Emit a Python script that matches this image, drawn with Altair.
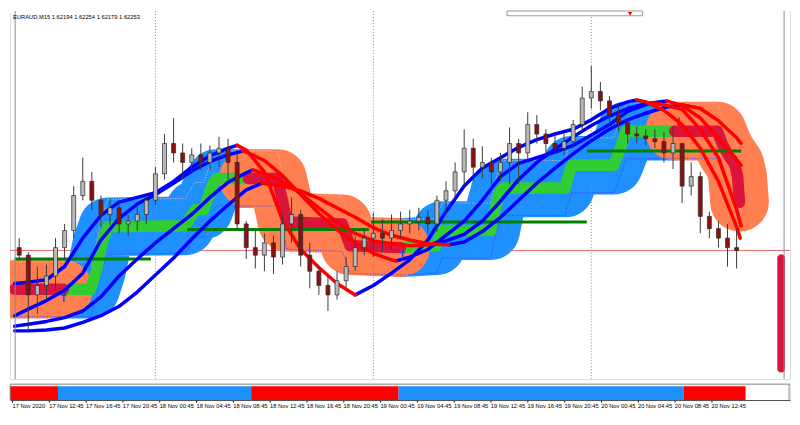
import altair as alt
import pandas as pd

# ---------------- data (x = hours since 17 Nov 2020 00:00, y = EURAUD price) ----------------
HEADER_TEXT = "EURAUD,M15  1.62194 1.62254 1.62179 1.62253"

CANDLE_HOUR = list(range(9, 89))
CANDLE_OPEN = [1.62259, 1.62243, 1.62159, 1.62179, 1.62199, 1.62259, 1.62295, 1.62369, 1.62399, 1.62359,
               1.62329, 1.62343, 1.62309, 1.62315, 1.62329, 1.62359, 1.62415, 1.62479, 1.62459, 1.62439,
               1.62455, 1.62439, 1.62459, 1.62469, 1.62439, 1.62309, 1.62259, 1.62243, 1.62269, 1.62239,
               1.62309, 1.62329, 1.62243, 1.62209, 1.62179, 1.62159, 1.62189, 1.62219, 1.62259, 1.62279,
               1.62289, 1.62279, 1.62295, 1.62309, 1.62315, 1.62323, 1.62309, 1.62359, 1.62379, 1.62419,
               1.62469, 1.62429, 1.62439, 1.62419, 1.62439, 1.62479, 1.62459, 1.62519, 1.62499, 1.62479,
               1.62469, 1.62483, 1.62519, 1.62575, 1.62589, 1.62569, 1.62539, 1.62523, 1.62499, 1.62495,
               1.62489, 1.62483, 1.62459, 1.62479, 1.62389, 1.62409, 1.62325, 1.62299, 1.62279, 1.62259]
CANDLE_HIGH = [1.62279, 1.62249, 1.62219, 1.62223, 1.62279, 1.62309, 1.62389, 1.62449, 1.62419, 1.62369,
               1.62363, 1.62359, 1.62329, 1.62349, 1.62369, 1.62429, 1.62499, 1.62533, 1.62479, 1.62469,
               1.62479, 1.62475, 1.62493, 1.62489, 1.62459, 1.62315, 1.62295, 1.62289, 1.62285, 1.62329,
               1.62365, 1.62339, 1.62269, 1.62219, 1.62199, 1.62209, 1.62239, 1.62283, 1.62299, 1.62333,
               1.62319, 1.62329, 1.62335, 1.62339, 1.62343, 1.62339, 1.62369, 1.62399, 1.62439, 1.62509,
               1.62489, 1.62473, 1.62449, 1.62459, 1.62513, 1.62489, 1.62545, 1.62539, 1.62509, 1.62503,
               1.62499, 1.62529, 1.62599, 1.62643, 1.62609, 1.62579, 1.62559, 1.62529, 1.62515, 1.62509,
               1.62509, 1.62503, 1.62515, 1.62479, 1.62439, 1.62419, 1.62335, 1.62315, 1.62309, 1.62299]
CANDLE_LOW = [1.62235, 1.62085, 1.62119, 1.62149, 1.62169, 1.62235, 1.62279, 1.62359, 1.62339, 1.62303,
              1.62307, 1.62289, 1.62283, 1.62295, 1.62309, 1.62349, 1.62403, 1.62439, 1.62403, 1.62415,
              1.62423, 1.62423, 1.62429, 1.62403, 1.62299, 1.62235, 1.62215, 1.62209, 1.62203, 1.62223,
              1.62269, 1.62219, 1.62173, 1.62159, 1.62125, 1.62149, 1.62175, 1.62209, 1.62243, 1.62239,
              1.62249, 1.62255, 1.62279, 1.62289, 1.62295, 1.62289, 1.62293, 1.62329, 1.62363, 1.62389,
              1.62399, 1.62405, 1.62393, 1.62399, 1.62393, 1.62393, 1.62443, 1.62479, 1.62453, 1.62459,
              1.62455, 1.62469, 1.62505, 1.62553, 1.62549, 1.62519, 1.62505, 1.62479, 1.62479, 1.62475,
              1.62469, 1.62439, 1.62425, 1.62353, 1.62369, 1.62289, 1.62279, 1.62259, 1.62219, 1.62215]
CANDLE_CLOSE = [1.62243, 1.62159, 1.62179, 1.62199, 1.62259, 1.62295, 1.62369, 1.62399, 1.62359, 1.62329,
                1.62343, 1.62309, 1.62315, 1.62329, 1.62359, 1.62415, 1.62479, 1.62459, 1.62439, 1.62455,
                1.62439, 1.62459, 1.62469, 1.62439, 1.62309, 1.62259, 1.62243, 1.62269, 1.62239, 1.62309,
                1.62329, 1.62243, 1.62209, 1.62179, 1.62159, 1.62189, 1.62219, 1.62259, 1.62279, 1.62289,
                1.62279, 1.62295, 1.62309, 1.62315, 1.62323, 1.62309, 1.62359, 1.62379, 1.62419, 1.62469,
                1.62429, 1.62439, 1.62419, 1.62439, 1.62479, 1.62459, 1.62519, 1.62499, 1.62479, 1.62469,
                1.62483, 1.62519, 1.62575, 1.62589, 1.62569, 1.62539, 1.62523, 1.62499, 1.62495, 1.62489,
                1.62483, 1.62459, 1.62479, 1.62389, 1.62409, 1.62325, 1.62299, 1.62279, 1.62259, 1.62253]

# step channel mid-line (green = up, crimson = down), also drawn thick as the channel band
MID_SEG = [0, 0,
           1, 1, 1, 1, 1, 1, 1, 1, 1, 1, 1, 1, 1,
           2, 2, 2, 2, 2, 2, 2, 2,
           3, 3, 3, 3, 3, 3, 3, 3, 3, 3, 3, 3, 3, 3, 3,
           4, 4, 4, 4, 4, 4, 4]
MID_HOUR = [8.5, 13.87,
            13.87, 16.85, 17.49, 18.13, 18.77, 27.31, 27.84, 28.37, 29.33, 29.76, 30.29, 30.72, 34.24,
            34.24, 37.44, 37.97, 38.51, 44.59, 45.01, 45.44, 50.99,
            50.99, 54.93, 55.25, 55.57, 60.91, 61.33, 61.97, 62.40, 69.12, 69.44, 69.87, 74.45, 75.20, 75.84, 81.17,
            81.17, 85.87, 86.40, 86.93, 87.79, 88.11, 88.32]
MID_PRICE = [1.62171, 1.62171,
             1.62171, 1.62171, 1.62209, 1.62269, 1.62303, 1.62305, 1.62323, 1.62339, 1.62339, 1.62363, 1.62393, 1.62405, 1.62405,
             1.62405, 1.62405, 1.62359, 1.62313, 1.62309, 1.62285, 1.62263, 1.62259,
             1.62259, 1.62263, 1.62279, 1.62295, 1.62295, 1.62335, 1.62379, 1.62385, 1.62385, 1.62409, 1.62433, 1.62433, 1.62469, 1.62505, 1.62505,
             1.62505, 1.62505, 1.62479, 1.62459, 1.62435, 1.62409, 1.62355]
MID_SEG_TREND = ["down", "up", "down", "up", "down"]
CHANNEL_HALF_WIDTH = 0.00058   # distance of the dotted channel bounds from the mid-line

# four moving-average curves, coloured by slope; turn hours switch colour
C1_HOUR = [8.5, 10, 12, 14, 16, 18, 20, 22, 24, 26, 28, 30, 32, 33, 34, 36, 38, 40, 42, 44, 46, 48, 50, 52,
           54, 56, 58, 60, 62, 64, 66, 68, 70, 72, 74, 76, 77, 78, 80, 82, 84, 86, 88, 88.4]
C1_PRICE = [1.62183, 1.62186, 1.62191, 1.62219, 1.62279, 1.62327, 1.62355, 1.62365, 1.62375, 1.62399, 1.62429,
            1.62453, 1.62469, 1.62475, 1.62465, 1.62419, 1.62317, 1.62255, 1.62217, 1.62183, 1.62159, 1.62179,
            1.62205, 1.62233, 1.62275, 1.62335, 1.62389, 1.62427, 1.62449, 1.62471, 1.62487, 1.62499, 1.62509,
            1.62529, 1.62553, 1.62567, 1.62571, 1.62567, 1.62549, 1.62519, 1.62469, 1.62399, 1.62303, 1.62279]
C1_TURNS = [33, 46, 77]
C2_HOUR = [8.5, 10, 12, 14, 16, 18, 20, 22, 24, 26, 28, 30, 32, 33.6, 34, 36, 38, 40, 42, 44, 46, 48, 50, 50.5,
           52, 54, 56, 58, 60, 62, 64, 66, 68, 70, 72, 74, 76, 78, 78.7, 80, 82, 84, 86, 88, 88.5]
C2_PRICE = [1.62115, 1.62129, 1.62147, 1.62169, 1.62205, 1.62275, 1.62321, 1.62351, 1.62371, 1.62395, 1.62421,
            1.62441, 1.62455, 1.62463, 1.62461, 1.62443, 1.62411, 1.62371, 1.62331, 1.62297, 1.62269, 1.62247,
            1.62233, 1.62231, 1.62239, 1.62255, 1.62285, 1.62315, 1.62359, 1.62409, 1.62437, 1.62449, 1.62461,
            1.62475, 1.62497, 1.62519, 1.62547, 1.62561, 1.62565, 1.62561, 1.62551, 1.62509, 1.62449, 1.62339,
            1.62305]
C2_TURNS = [33.6, 50.5, 78.7]
C3_HOUR = [8.5, 10, 12, 14, 16, 18, 20, 22, 24, 26, 28, 30, 32, 34, 34.7, 36, 38, 40, 42, 44, 46, 48, 50, 52,
           54, 54.5, 56, 58, 60, 62, 64, 66, 68, 70, 72, 74, 76, 78, 80.3, 82, 84, 86, 88, 88.5]
C3_PRICE = [1.62093, 1.62097, 1.62103, 1.62111, 1.62125, 1.62155, 1.62199, 1.62235, 1.62269, 1.62299, 1.62329,
            1.62365, 1.62397, 1.62417, 1.62423, 1.62415, 1.62399, 1.62373, 1.62343, 1.62313, 1.62289, 1.62273,
            1.62267, 1.62263, 1.62265, 1.62267, 1.62273, 1.62287, 1.62315, 1.62357, 1.62403, 1.62439, 1.62467,
            1.62493, 1.62517, 1.62537, 1.62553, 1.62563, 1.62569, 1.62559, 1.62533, 1.62489, 1.62445, 1.62433]
C3_TURNS = [34.7, 54.5, 80.3]
C4_HOUR = [8.5, 10, 12, 14, 16, 18, 20, 22, 24, 26, 28, 30, 32, 34, 35.75, 38, 40, 42, 44, 46, 48, 50, 52, 54,
           56.3, 58, 60, 62, 64, 66, 68, 70, 72, 74, 76, 78, 80, 82, 84, 86, 88, 88.5]
C4_PRICE = [1.62083, 1.62083, 1.62085, 1.62089, 1.62101, 1.62115, 1.62135, 1.62165, 1.62201, 1.62237, 1.62277,
            1.62315, 1.62349, 1.62381, 1.62395, 1.62389, 1.62379, 1.62363, 1.62343, 1.62323, 1.62301, 1.62285,
            1.62275, 1.62267, 1.62265, 1.62271, 1.62293, 1.62323, 1.62359, 1.62395, 1.62427, 1.62457, 1.62485,
            1.62509, 1.62529, 1.62543, 1.62555, 1.62561, 1.62553, 1.62527, 1.62491, 1.62479]
C4_TURNS = [35.75, 56.3, 82]

LEVEL_START = [8.5, 27.5, 47.75, 71.5]
LEVEL_END = [23.5, 47.5, 71.5, 88.5]
LEVEL_PRICE = [1.62235, 1.62297, 1.62313, 1.62463]

BID_PRICE = 1.62253
DAY_SEPARATORS = [24, 48, 72]

ARROW_HOUR = [13.9, 51.2, 81.7]
ARROW_PRICE = [1.62153, 1.62243, 1.62525]
ARROW_DIR = ["up", "up", "down"]

SIDE_BAR_HOUR = [92.48, 93.333]
SIDE_BAR_PRICE = [1.61995, 1.62245]

# small pop-up window edge at the top of the screenshot
POPUP_HOUR = [62.72, 77.65]
POPUP_PRICE = [1.62749, 1.62759]
POPUP_MARK = [76.27, 1.62753]

STRIP_START = [8.5, 13.75, 34.75, 50.75, 81.75]
STRIP_END = [13.75, 34.75, 50.75, 81.75, 88.5]
STRIP_TREND = ["down", "up", "down", "up", "down"]

TICK_HOURS = [8.75, 12.75, 16.75, 20.75, 24.75, 28.75, 32.75, 36.75, 40.75, 44.75,
              48.75, 52.75, 56.75, 60.75, 64.75, 68.75, 72.75, 76.75, 80.75, 84.75]
TICK_LABELS = ["17 Nov 2020", "17 Nov 12:45", "17 Nov 16:45", "17 Nov 20:45", "18 Nov 00:45",
               "18 Nov 04:45", "18 Nov 08:45", "18 Nov 12:45", "18 Nov 16:45", "18 Nov 20:45",
               "19 Nov 00:45", "19 Nov 04:45", "19 Nov 08:45", "19 Nov 12:45", "19 Nov 16:45",
               "19 Nov 20:45", "20 Nov 00:45", "20 Nov 04:45", "20 Nov 08:45", "20 Nov 12:45"]

# ---------------- colours ----------------
UP_BAND, DOWN_BAND = "#1E90FF", "#FF7F50"
UP_CORE, DOWN_CORE = "#32CD32", "#DC143C"
UP_LINE, DOWN_LINE = "#0000FF", "#FF0000"

# ---------------- tables ----------------
candles = pd.DataFrame({"hour": CANDLE_HOUR, "open": CANDLE_OPEN, "high": CANDLE_HIGH,
                        "low": CANDLE_LOW, "close": CANDLE_CLOSE})
candles["dir"] = ["bull" if c >= o else "bear" for o, c in zip(CANDLE_OPEN, CANDLE_CLOSE)]

mid = pd.DataFrame({"seg": MID_SEG, "hour": MID_HOUR, "price": MID_PRICE})
mid["trend"] = [MID_SEG_TREND[s] for s in MID_SEG]
mid["upper"] = mid["price"] + CHANNEL_HALF_WIDTH
mid["lower"] = mid["price"] - CHANNEL_HALF_WIDTH


def curve_rows(name, hours, prices, turns):
    rows, seg, trend, k = [], 0, "up", 0
    for h, p in zip(hours, prices):
        rows.append({"key": f"{name}-{seg}", "trend": trend, "hour": h, "price": p})
        if k < len(turns) and abs(h - turns[k]) < 1e-9:
            seg += 1
            k += 1
            trend = "down" if trend == "up" else "up"
            rows.append({"key": f"{name}-{seg}", "trend": trend, "hour": h, "price": p})
    return rows


curves = pd.DataFrame(curve_rows("c1", C1_HOUR, C1_PRICE, C1_TURNS)
                      + curve_rows("c2", C2_HOUR, C2_PRICE, C2_TURNS)
                      + curve_rows("c3", C3_HOUR, C3_PRICE, C3_TURNS)
                      + curve_rows("c4", C4_HOUR, C4_PRICE, C4_TURNS))

levels = pd.DataFrame({"start": LEVEL_START, "end": LEVEL_END, "price": LEVEL_PRICE})
arrows = pd.DataFrame({"hour": ARROW_HOUR, "price": ARROW_PRICE, "dir": ARROW_DIR})
arrows["sym"] = ["\u2191" if d == "up" else "\u2193" for d in ARROW_DIR]
side = pd.DataFrame({"h0": [SIDE_BAR_HOUR[0]], "h1": [SIDE_BAR_HOUR[1]],
                     "p0": [SIDE_BAR_PRICE[0]], "p1": [SIDE_BAR_PRICE[1]]})
popup = pd.DataFrame({"h0": [POPUP_HOUR[0]], "h1": [POPUP_HOUR[1]],
                      "p0": [POPUP_PRICE[0]], "p1": [POPUP_PRICE[1]]})
popup_mark = pd.DataFrame({"hour": [POPUP_MARK[0]], "price": [POPUP_MARK[1]]})
strip = pd.DataFrame({"start": STRIP_START, "end": STRIP_END, "trend": STRIP_TREND,
                      "lo": [0.0] * 5, "hi": [0.86] * 5})

# ---------------- scales ----------------
X_MIN, X_MAX = 8.533, 93.333
Y_MIN, Y_MAX = 1.61981, 1.62759
W, H_MAIN, H_STRIP = 784, 370, 16
xs = alt.Scale(domain=[X_MIN, X_MAX], nice=False, zero=False)
ys = alt.Scale(domain=[Y_MIN, Y_MAX], nice=False, zero=False)


def X(f="hour"):
    return alt.X(f"{f}:Q", scale=xs, axis=None)


def Y(f="price"):
    return alt.Y(f"{f}:Q", scale=ys, axis=None)


def only(df, col, val):
    return df[df[col] == val]


# ---------------- main panel ----------------
top_cover = alt.Chart(pd.DataFrame({"price": [Y_MAX]})).mark_rule(
    color="white", strokeWidth=3).encode(y=Y())
sep = alt.Chart(pd.DataFrame({"hour": DAY_SEPARATORS})).mark_rule(
    color="#8a8a8a", strokeDash=[1, 2], strokeWidth=1).encode(x=X())
bid = alt.Chart(pd.DataFrame({"price": [BID_PRICE]})).mark_rule(
    color="#e86a6a", strokeWidth=1).encode(y=Y())

lk = dict(strokeCap="round", strokeJoin="round", clip=True)
band_up = alt.Chart(only(mid, "trend", "up")).mark_line(strokeWidth=59, color=UP_BAND, **lk).encode(
    x=X(), y=Y(), detail="seg:N")
band_dn = alt.Chart(only(mid, "trend", "down")).mark_line(strokeWidth=59, color=DOWN_BAND, **lk).encode(
    x=X(), y=Y(), detail="seg:N")
bound_hi = alt.Chart(mid).mark_line(strokeWidth=1, color="#ffb0b0", strokeDash=[1, 1.5], clip=True).encode(
    x=X(), y=Y("upper"), detail="seg:N")
bound_lo = alt.Chart(mid).mark_line(strokeWidth=1, color="#3c3cff", strokeDash=[1, 1.5], clip=True).encode(
    x=X(), y=Y("lower"), detail="seg:N")
core_up = alt.Chart(only(mid, "trend", "up")).mark_line(strokeWidth=11.5, color=UP_CORE, **lk).encode(
    x=X(), y=Y(), detail="seg:N")
core_dn = alt.Chart(only(mid, "trend", "down")).mark_line(strokeWidth=11.5, color=DOWN_CORE, **lk).encode(
    x=X(), y=Y(), detail="seg:N")

lvl = alt.Chart(levels).mark_rule(color="#008000", strokeWidth=3, clip=True).encode(
    x=X("start"), x2="end", y=Y())

curve_up = alt.Chart(only(curves, "trend", "up")).mark_line(
    strokeWidth=3.5, color=UP_LINE, **lk).encode(x=X(), y=Y(), detail="key:N")
curve_dn = alt.Chart(only(curves, "trend", "down")).mark_line(
    strokeWidth=3.5, color=DOWN_LINE, **lk).encode(x=X(), y=Y(), detail="key:N")

wick = alt.Chart(candles).mark_rule(color="#3a3a3a", strokeWidth=1).encode(
    x=X(), y=Y("low"), y2="high")
body_bull = alt.Chart(only(candles, "dir", "bull")).mark_bar(
    size=4, color="#b8b8b8", stroke="#2a2a2a", strokeWidth=0.7).encode(x=X(), y=Y("open"), y2="close")
body_bear = alt.Chart(only(candles, "dir", "bear")).mark_bar(
    size=4, color="#8b1010", stroke="#2a2a2a", strokeWidth=0.7).encode(x=X(), y=Y("open"), y2="close")

arrow_up = alt.Chart(only(arrows, "dir", "up")).mark_text(
    fontSize=12, fontWeight="bold", font="DejaVu Sans", color="#1f3fff").encode(x=X(), y=Y(), text="sym:N")
arrow_dn = alt.Chart(only(arrows, "dir", "down")).mark_text(
    fontSize=12, fontWeight="bold", font="DejaVu Sans", color="#ff0000").encode(x=X(), y=Y(), text="sym:N")

side_bar = alt.Chart(side).mark_rect(color="#DC143C", cornerRadius=4).encode(
    x=X("h0"), x2="h1", y=Y("p0"), y2="p1")

popup_box = alt.Chart(popup).mark_rect(fill="white", stroke="#9a9a9a", strokeWidth=1).encode(
    x=X("h0"), x2="h1", y=Y("p0"), y2="p1")
popup_tri = alt.Chart(popup_mark).mark_point(shape="triangle-down", size=18, filled=True,
                                             color="#e00000", opacity=1).encode(x=X(), y=Y())

frame = alt.Chart(pd.DataFrame({"hour": [X_MIN + 0.02, 93.23]})).mark_rule(
    color="#8c8c8c", strokeWidth=1).encode(x=X())

header = alt.Chart(pd.DataFrame({"t": [HEADER_TEXT]})).mark_text(
    align="left", baseline="middle", fontSize=5.8, font="Liberation Sans", color="#000000").encode(
    x=alt.value(3), y=alt.value(6.5), text="t:N")

main = alt.layer(top_cover, bid, band_up, band_dn, bound_hi, bound_lo, core_up, core_dn, sep, lvl,
                 curve_up, curve_dn, wick, body_bull, body_bear, arrow_up, arrow_dn, side_bar, frame,
                 popup_box, popup_tri, header).properties(width=W, height=H_MAIN)

# ---------------- trend strip with time axis ----------------
labels_js = "[" + ",".join(f"'{s}'" for s in TICK_LABELS) + "]"
values_js = "[" + ",".join(str(v) for v in TICK_HOURS) + "]"
time_axis = alt.Axis(values=TICK_HOURS, labelExpr=f"{labels_js}[indexof({values_js}, datum.value)]",
                     labelAlign="left", labelBaseline="top", labelFontSize=5.8, labelFont="Liberation Sans",
                     labelColor="#000000", labelPadding=1, labelFlush=False, labelOverlap=False,
                     tickSize=2, tickColor="#000000", domainColor="#505050", grid=False, title=None)
sy = alt.Scale(domain=[0, 1])
strip_up = alt.Chart(only(strip, "trend", "up")).mark_rect(color=UP_BAND, clip=True).encode(
    x=alt.X("start:Q", scale=xs, axis=time_axis), x2="end",
    y=alt.Y("lo:Q", scale=sy, axis=None), y2="hi")
strip_dn = alt.Chart(only(strip, "trend", "down")).mark_rect(color="#FF0000", clip=True).encode(
    x=alt.X("start:Q", scale=xs, axis=time_axis), x2="end",
    y=alt.Y("lo:Q", scale=sy, axis=None), y2="hi")
strip_top = alt.Chart(pd.DataFrame({"v": [1.0]})).mark_rule(color="#8c8c8c").encode(
    y=alt.Y("v:Q", scale=sy, axis=None))
strip_sides = alt.Chart(pd.DataFrame({"start": [X_MIN + 0.02, 93.23]})).mark_rule(
    color="#8c8c8c").encode(x=alt.X("start:Q", scale=xs, axis=time_axis))

bottom = alt.layer(strip_up, strip_dn, strip_top, strip_sides).properties(width=W, height=H_STRIP)

chart = alt.vconcat(main, bottom, spacing=3).properties(padding=0).configure_view(
    stroke="transparent").configure(background="white")

chart.save("out.html", embed_options={"renderer": "svg", "actions": False})
